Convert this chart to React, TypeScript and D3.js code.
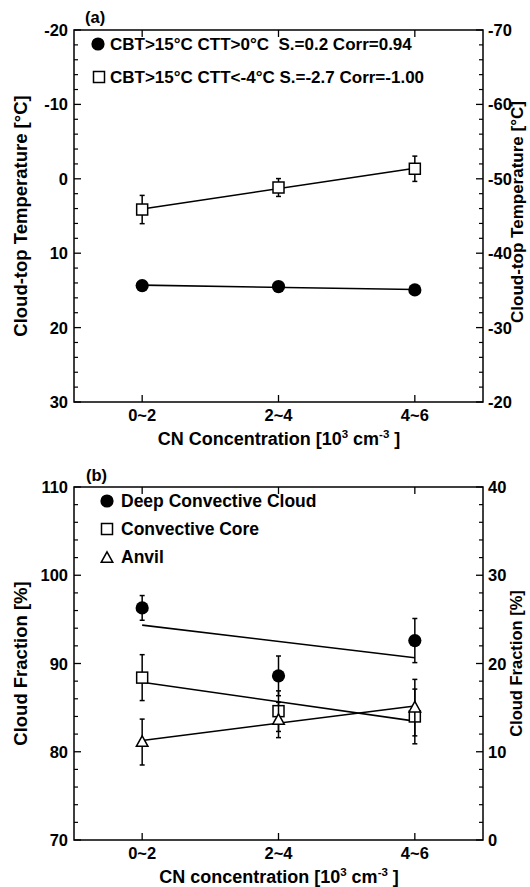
import React from "react";
import * as d3 from "d3";

const categories = ["0~2", "2~4", "4~6"];

// Panel (a): cloud-top temperature [°C]
const warmCTT = [14.35, 14.48, 14.93];
const warmErr = [0.3, 0.3, 0.3];
const coldCTT = [4.13, 1.17, -1.35];
const coldErr = [1.9, 1.2, 1.7];
const aLeftTicks = [-20, -10, 0, 10, 20, 30];
const aRightTicks = [-70, -60, -50, -40, -30, -20];

// Panel (b): cloud fraction [%]
const dccFrac = [96.3, 88.6, 92.6];
const dccErr = [1.4, 2.25, 2.5];
const coreFrac = [18.4, 14.6, 14.0];
const coreErr = [2.6, 2.3, 3.1];
const anvilFrac = [11.1, 13.6, 15.0];
const anvilErr = [2.6, 2.0, 3.2];
const bLeftTicks = [70, 80, 90, 100, 110];
const bRightTicks = [0, 10, 20, 30, 40];

const FONT = "'Liberation Sans', Arial, Helvetica, sans-serif";
const L = 74, R = 483;

function fit(vals: number[]) {
  const xs = vals.map((_, i) => i);
  const mx = d3.mean(xs)!, my = d3.mean(vals)!;
  let num = 0, den = 0;
  xs.forEach((x, i) => { num += (x - mx) * (vals[i] - my); den += (x - mx) * (x - mx); });
  const b = num / den;
  return { a: my - b * mx, b };
}

type Shape = "circle" | "square" | "triangle";

function Marker({ shape, x, y }: { shape: Shape; x: number; y: number }) {
  if (shape === "circle") return <circle cx={x} cy={y} r={6.6} fill="#000" />;
  if (shape === "square")
    return <rect x={x - 5.5} y={y - 5.5} width={11} height={11} fill="#fff" stroke="#000" strokeWidth={1.5} />;
  return (
    <path d={`M${x},${y - 6.2}L${x + 5.8},${y + 4.3}L${x - 5.8},${y + 4.3}Z`} fill="#fff" stroke="#000" strokeWidth={1.5} />
  );
}

function Series({ vals, errs, shape, x, y }: { vals: number[]; errs: number[]; shape: Shape; x: d3.ScalePoint<string>; y: d3.ScaleLinear<number, number> }) {
  const f = fit(vals);
  const x0 = x(categories[0])!, x1 = x(categories[categories.length - 1])!;
  const yl0 = y(f.a), yl1 = y(f.a + f.b * (vals.length - 1));
  return (
    <g>
      <line x1={x0} y1={yl0} x2={x1} y2={yl1} stroke="#000" strokeWidth={1.6} />
      {vals.map((v, i) => {
        const cx = x(categories[i])!;
        const t = y(v + errs[i]), bt = y(v - errs[i]);
        return (
          <g key={i}>
            <line x1={cx} x2={cx} y1={t} y2={bt} stroke="#000" strokeWidth={1.5} />
            <line x1={cx - 2.5} x2={cx + 2.5} y1={t} y2={t} stroke="#000" strokeWidth={1.5} />
            <line x1={cx - 2.5} x2={cx + 2.5} y1={bt} y2={bt} stroke="#000" strokeWidth={1.5} />
            <Marker shape={shape} x={cx} y={y(v)} />
          </g>
        );
      })}
    </g>
  );
}

function Frame({ x, yl, yr, leftTicks, rightTicks, top, bottom }: any) {
  const [l0, l1] = yl.domain();
  const [r0, r1] = yr.domain();
  const minorL = d3.range(Math.min(l0, l1), Math.max(l0, l1) + 0.001, 2).filter((v: number) => !leftTicks.includes(v));
  const minorR = d3.range(Math.min(r0, r1), Math.max(r0, r1) + 0.001, 2).filter((v: number) => !rightTicks.includes(v));
  return (
    <g>
      <rect x={L} y={top} width={R - L} height={bottom - top} fill="none" stroke="#000" strokeWidth={1.5} />
      {leftTicks.map((t: number) => (
        <g key={"l" + t}>
          <line x1={L} x2={L + 7} y1={yl(t)} y2={yl(t)} stroke="#000" strokeWidth={1.3} />
          <text x={68} y={yl(t) + 6} textAnchor="end" fontSize={16.5} fontWeight="bold" fontFamily={FONT}>{t}</text>
        </g>
      ))}
      {minorL.map((t: number) => (
        <line key={"ml" + t} x1={L} x2={L + 4} y1={yl(t)} y2={yl(t)} stroke="#000" strokeWidth={1.2} />
      ))}
      {rightTicks.map((t: number) => (
        <g key={"r" + t}>
          <line x1={R} x2={R - 7} y1={yr(t)} y2={yr(t)} stroke="#000" strokeWidth={1.3} />
          <text x={488} y={yr(t) + 6} textAnchor="start" fontSize={16.5} fontWeight="bold" fontFamily={FONT}>{t}</text>
        </g>
      ))}
      {minorR.map((t: number) => (
        <line key={"mr" + t} x1={R} x2={R - 4} y1={yr(t)} y2={yr(t)} stroke="#000" strokeWidth={1.2} />
      ))}
      {categories.map((c) => (
        <g key={c}>
          <line x1={x(c)} x2={x(c)} y1={bottom} y2={bottom - 7} stroke="#000" strokeWidth={1.3} />
          <line x1={x(c)} x2={x(c)} y1={top} y2={top + 7} stroke="#000" strokeWidth={1.3} />
          <text x={x(c)} y={bottom + 19} textAnchor="middle" fontSize={16.5} fontWeight="bold" fontFamily={FONT}>{c}</text>
        </g>
      ))}
    </g>
  );
}

function XTitle({ y, word }: { y: number; word: string }) {
  return (
    <text x={279} y={y} textAnchor="middle" fontSize={18} fontWeight="bold" fontFamily={FONT}>
      {word} [10<tspan fontSize={11.5} dy={-7}>3</tspan>
      <tspan dy={7}> cm</tspan>
      <tspan fontSize={11.5} dy={-7}>-3</tspan>
      <tspan dy={7}> ]</tspan>
    </text>
  );
}

export default function App() {
  const x = d3.scalePoint<string>().domain(categories).range([L, R]).padding(0.5);
  const aTop = 30, aBot = 402;
  const yA = d3.scaleLinear().domain([-20, 30]).range([aTop, aBot]);
  const yA2 = d3.scaleLinear().domain([-70, -20]).range([aTop, aBot]);
  const bTop = 487, bBot = 840;
  const yB = d3.scaleLinear().domain([70, 110]).range([bBot, bTop]);
  const yB2 = d3.scaleLinear().domain([0, 40]).range([bBot, bTop]);
  const txt = { fontWeight: "bold", fontFamily: FONT } as any;
  return (
    <svg width={530} height={887} style={{ position: "absolute", left: 0, top: 0, background: "#fff" }}>
      <rect width={530} height={887} fill="#fff" />
      {/* Panel (a) */}
      <text x={85} y={23} fontSize={16.5} {...txt}>(a)</text>
      <Series vals={coldCTT} errs={coldErr} shape="square" x={x} y={yA} />
      <Series vals={warmCTT} errs={warmErr} shape="circle" x={x} y={yA} />
      <Frame x={x} yl={yA} yr={yA2} leftTicks={aLeftTicks} rightTicks={aRightTicks} top={aTop} bottom={aBot} />
      <Marker shape="circle" x={98} y={44} />
      <text x={110} y={50} fontSize={17} {...txt} style={{ whiteSpace: "pre" }}>{"CBT>15°C CTT>0°C  S.=0.2 Corr=0.94"}</text>
      <Marker shape="square" x={99} y={77} />
      <text x={110} y={83} fontSize={17} {...txt} style={{ whiteSpace: "pre" }}>{"CBT>15°C CTT<-4°C S.=-2.7 Corr=-1.00"}</text>
      <text transform={`translate(27,${(aTop + aBot) / 2}) rotate(-90)`} textAnchor="middle" fontSize={18.5} {...txt}>Cloud-top Temperature [°C]</text>
      <text transform={`translate(523,${(aTop + aBot) / 2 - 4}) rotate(-90)`} textAnchor="middle" fontSize={17} {...txt}>Cloud-top Temperature [°C]</text>
      <XTitle y={445} word="CN Concentration" />

      {/* Panel (b) */}
      <text x={86} y={481} fontSize={16.5} {...txt}>(b)</text>
      <Series vals={dccFrac} errs={dccErr} shape="circle" x={x} y={yB} />
      <Series vals={coreFrac} errs={coreErr} shape="square" x={x} y={yB2} />
      <Series vals={anvilFrac} errs={anvilErr} shape="triangle" x={x} y={yB2} />
      <Frame x={x} yl={yB} yr={yB2} leftTicks={bLeftTicks} rightTicks={bRightTicks} top={bTop} bottom={bBot} />
      <Marker shape="circle" x={107} y={501} />
      <text x={121} y={507} fontSize={17.5} {...txt}>Deep Convective Cloud</text>
      <Marker shape="square" x={107} y={529} />
      <text x={121} y={535} fontSize={17.5} {...txt}>Convective Core</text>
      <Marker shape="triangle" x={107} y={558} />
      <text x={121} y={563} fontSize={17.5} {...txt}>Anvil</text>
      <text transform={`translate(27,${(bTop + bBot) / 2}) rotate(-90)`} textAnchor="middle" fontSize={18.5} {...txt}>Cloud Fraction [%]</text>
      <text transform={`translate(522,${(bTop + bBot) / 2}) rotate(-90)`} textAnchor="middle" fontSize={16.5} {...txt}>Cloud Fraction [%]</text>
      <XTitle y={883} word="CN concentration" />
    </svg>
  );
}
